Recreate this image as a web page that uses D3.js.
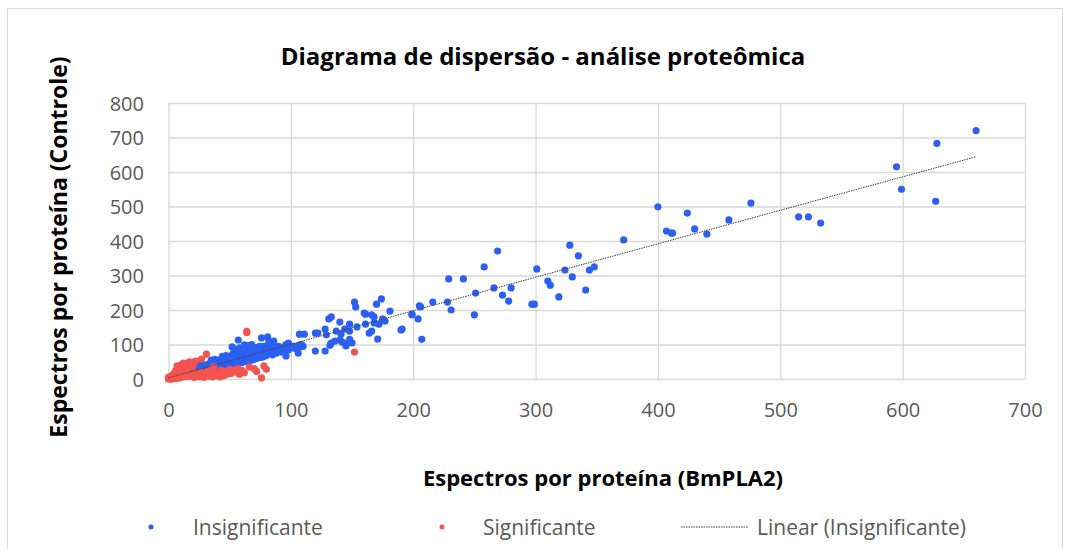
<!DOCTYPE html>
<html><head><meta charset="utf-8">
<script src="https://cdn.jsdelivr.net/npm/d3@7"></script>
<style>
html,body{margin:0;padding:0;background:#fff;}
text{font-family:"Open Sans",sans-serif;}
</style></head>
<body>
<svg id="chart" width="1070" height="549"></svg>
<script>
const chartTitle = "Diagrama de dispersão - análise proteômica";
const xTitle = "Espectros por proteína (BmPLA2)";
const yTitle = "Espectros por proteína (Controle)";
const seriesNames = ["Insignificante", "Significante", "Linear (Insignificante)"];
const xTicks = [0,100,200,300,400,500,600,700];
const yTicks = [0,100,200,300,400,500,600,700,800];

// Insignificante (blue) points [BmPLA2, Controle]
const insignificante = [
[1,2],[2,1],[2,3],[3,2],[3,4],[4,3],[4,5],[5,4],[5,6],[6,5],[6,7],[7,6],[7,8],[8,7],[8,9],[9,8],[9,11],[10,9],[10,12],[3,3],[5,5],[7,7],[9,10],
[11,10],[11,13],[12,11],[12,14],[13,12],[13,15],[14,13],[14,17],[15,14],[15,18],[16,15],[16,19],[17,16],[17,21],[18,17],[18,22],[19,17],[19,23],[20,18],[20,24],[12,9],[14,11],[16,12],[18,14],[20,15],
[21,20],[21,26],[22,19],[22,27],[23,22],[23,29],[24,21],[24,30],[25,23],[25,32],[26,24],[26,33],[27,25],[27,35],[28,26],[28,36],[29,27],[29,34],[30,28],[30,38],[22,17],[24,19],[26,20],[28,22],[30,24],[25,40],[28,42],
[31,30],[31,40],[32,29],[32,41],[33,31],[33,44],[34,32],[34,45],[35,33],[35,46],[36,34],[36,47],[37,35],[37,48],[38,36],[38,50],[39,37],[39,45],[40,38],[40,52],[32,26],[34,27],[36,29],[38,31],[40,32],[35,55],[38,57],
[41,40],[41,54],[42,39],[42,55],[43,41],[43,57],[44,42],[44,58],[45,43],[45,60],[46,44],[46,61],[47,45],[47,62],[48,46],[48,63],[49,47],[49,60],[50,48],[50,65],[42,34],[44,36],[46,37],[48,39],[50,40],[44,66],[47,68],
[51,50],[51,67],[52,49],[52,68],[53,51],[53,70],[54,52],[54,72],[55,53],[55,73],[56,54],[56,74],[57,55],[57,75],[58,56],[58,77],[59,57],[59,70],[60,58],[60,80],[52,42],[54,44],[56,45],[58,47],[60,48],[55,85],[58,90],[62,92],
[61,60],[61,78],[62,59],[62,80],[63,61],[63,82],[64,62],[64,83],[65,63],[65,85],[66,64],[66,86],[67,65],[67,88],[68,66],[68,89],[69,67],[69,80],[70,68],[70,90],[62,50],[64,52],[66,54],[68,55],[70,57],[65,97],[68,100],
[71,70],[71,88],[72,69],[72,91],[73,71],[73,92],[74,72],[74,93],[75,73],[75,95],[76,74],[76,85],[77,75],[77,90],[78,76],[78,95],[79,77],[79,85],[80,78],[80,92],[72,60],[74,62],[76,63],[78,65],[80,68],
[81,80],[81,90],[82,79],[82,88],[83,81],[83,94],[84,82],[84,90],[85,83],[85,95],[86,80],[86,88],[87,85],[88,82],[88,92],[89,86],[90,84],[90,95],[92,88],[93,80],[94,92],[95,90],[96,100],[97,88],[98,95],[99,92],[100,90],[102,95],[104,88],[106,96],[108,100],[110,95],[85,70],[88,75],[92,78],[95,80],[98,84],
[107,130],[111,130],[120,133],[122,133],[128,145],[129,128],[131,174],[133,180],[137,139],[140,165],[144,145],[141,130],[148,159],[148,139],[146,104],[145,96],[142,107],[154,151],[161,159],[164,133],[166,139],[168,180],[168,162],[171,116],[172,159],[175,174],[177,168],[161,188],[166,186],[140,113],[136,110],[133,104],[132,98],[120,81],[128,81],[106,75],[108,93],[109,99],[96,67],[97,93],[98,104],[86,78],[81,122],[82,107],[86,110],[76,119],[57,113],[62,99],[52,93],[53,75],[148,115],[150,105],
[152,223],[153,209],[174,232],[170,217],[160,191],[181,197],[190,142],[199,188],[207,115],
[191,145],[199,186],[204,174],[205,212],[206,209],[216,223],[228,223],[229,290],[231,200],[241,290],[250,186],[251,249],[258,325],[266,264],[269,371],[273,243],[278,226],[280,264],[297,217],[299,217],[301,319],[310,284],[312,272],[319,238],[324,316],[328,388],[330,296],[335,357],[341,258],[344,316],[348,325],[372,403],[400,499],[407,429],[411,423],[412,423],[424,481],[430,435],[440,420],[458,461],[476,510],[515,470],[523,470],[533,452],[595,615],[599,550],[627,515],[628,683],[660,720]
];

// Significante (red) points
const significante = [
[0,0],[1,1],[1,3],[2,0],[2,2],[3,1],[0,2],[0,5],[1,6],[2,8],[3,5],[4,2],[4,7],[5,1],[5,10],[6,3],[6,12],[7,2],[7,15],[8,4],[8,18],[9,3],[9,22],[10,5],[10,28],[11,8],[11,25],[12,6],[12,46],[7,38],[13,30],[14,10],[14,35],[15,7],[15,40],[16,12],[16,32],[17,9],[17,50],[18,14],[18,44],[19,8],[20,12],[20,36],[21,5],[22,14],[23,9],[24,17],[25,6],[26,13],[27,58],[27,20],[28,10],[29,5],[30,15],[31,72],[31,12],[32,22],[33,8],[34,12],[34,25],[35,18],[36,6],[37,35],[38,20],[39,10],[40,20],[41,14],[42,6],[43,25],[44,18],[45,10],[46,22],[47,12],[49,23],[50,28],[51,16],[53,26],[55,20],[57,30],[58,14],[60,25],[62,18],[64,138],[64,134],[66,35],[70,30],[72,22],[76,3],[78,38],[80,28],[152,78],[3,10],[4,14],[5,18],[6,25],[8,30],[9,35],[10,40],[13,42],[22,52],[18,48]
];

const svg = d3.select("#chart");
const plot = {left:168.5, right:1025, top:103, bottom:379};
const x = d3.scaleLinear().domain([0,700]).range([plot.left, plot.right]);
const y = d3.scaleLinear().domain([0,800]).range([plot.bottom, plot.top]);
const grid = "#d9d9d9", txt = "#595959";
const blue = "#2b60f2", red = "#f4544f";

svg.append("rect").attr("x",7.5).attr("y",8.5).attr("width",1055).attr("height",560)
  .attr("fill","#fff").attr("stroke",grid).attr("stroke-width",1);

// gridlines via axes
svg.append("g").attr("transform",`translate(0,${plot.bottom})`)
  .call(d3.axisBottom(x).tickValues(xTicks).tickSize(-(plot.bottom-plot.top)).tickFormat(""))
  .call(g=>g.select(".domain").remove())
  .call(g=>g.selectAll("line").attr("stroke",grid).attr("stroke-width",1.3));
svg.append("g").attr("transform",`translate(${plot.left},0)`)
  .call(d3.axisLeft(y).tickValues(yTicks).tickSize(-(plot.right-plot.left)).tickFormat(""))
  .call(g=>g.select(".domain").remove())
  .call(g=>g.selectAll("line").attr("stroke",grid).attr("stroke-width",1.3));

// tick labels
svg.append("g").attr("transform",`translate(0,${plot.bottom})`)
  .call(d3.axisBottom(x).tickValues(xTicks).tickSize(0).tickPadding(0).tickFormat(d3.format("d")))
  .call(g=>g.select(".domain").remove())
  .call(g=>g.selectAll("text").attr("y",38).attr("dy",null).attr("fill",txt).attr("font-size",20).attr("font-family","Open Sans"));
svg.append("g").attr("transform",`translate(144,0)`)
  .call(d3.axisLeft(y).tickValues(yTicks).tickSize(0).tickPadding(0).tickFormat(d3.format("d")))
  .call(g=>g.select(".domain").remove())
  .call(g=>g.selectAll("text").attr("dy","0.35em").attr("fill",txt).attr("font-size",20).attr("font-family","Open Sans"));

// points
svg.append("g").selectAll("circle").data(insignificante).join("circle")
  .attr("cx",d=>x(d[0])).attr("cy",d=>y(d[1])).attr("r",3.6).attr("fill",blue);
svg.append("g").selectAll("circle").data(significante).join("circle")
  .attr("cx",d=>x(d[0])).attr("cy",d=>y(d[1])).attr("r",3.6).attr("fill",red);

// linear trendline (least squares on Insignificante)
const mx = d3.mean(insignificante,d=>d[0]), my = d3.mean(insignificante,d=>d[1]);
const slope = d3.sum(insignificante,d=>(d[0]-mx)*(d[1]-my)) / d3.sum(insignificante,d=>(d[0]-mx)**2);
const intercept = my - slope*mx;
const xMax = d3.max(insignificante,d=>d[0]);
svg.append("line").attr("x1",x(0)).attr("y1",y(intercept)).attr("x2",x(xMax)).attr("y2",y(intercept+slope*xMax))
  .attr("stroke","#404040").attr("stroke-width",1).attr("stroke-dasharray","1.5,1");

// titles
svg.append("text").attr("x",543).attr("y",65).attr("text-anchor","middle").attr("font-size",24).attr("font-weight","bold").attr("fill","#000").text(chartTitle);
svg.append("text").attr("x",603).attr("y",486).attr("text-anchor","middle").attr("font-size",22).attr("font-weight","bold").attr("fill","#000").text(xTitle);
svg.append("text").attr("transform","translate(67,247) rotate(-90)").attr("text-anchor","middle").attr("font-size",23).attr("font-weight","bold").attr("fill","#000").text(yTitle);

// legend
const leg = svg.append("g");
leg.append("circle").attr("cx",151).attr("cy",527).attr("r",2.5).attr("fill",blue);
leg.append("text").attr("x",193).attr("y",535).attr("font-size",21).attr("fill",txt).text(seriesNames[0]);
leg.append("circle").attr("cx",442).attr("cy",527).attr("r",2.5).attr("fill",red);
leg.append("text").attr("x",483).attr("y",535).attr("font-size",21).attr("fill",txt).text(seriesNames[1]);
leg.append("line").attr("x1",681).attr("x2",748).attr("y1",527).attr("y2",527).attr("stroke","#404040").attr("stroke-width",1).attr("stroke-dasharray","1.5,1");
leg.append("text").attr("x",757).attr("y",535).attr("font-size",21).attr("fill",txt).text(seriesNames[2]);
</script>
</body></html>
